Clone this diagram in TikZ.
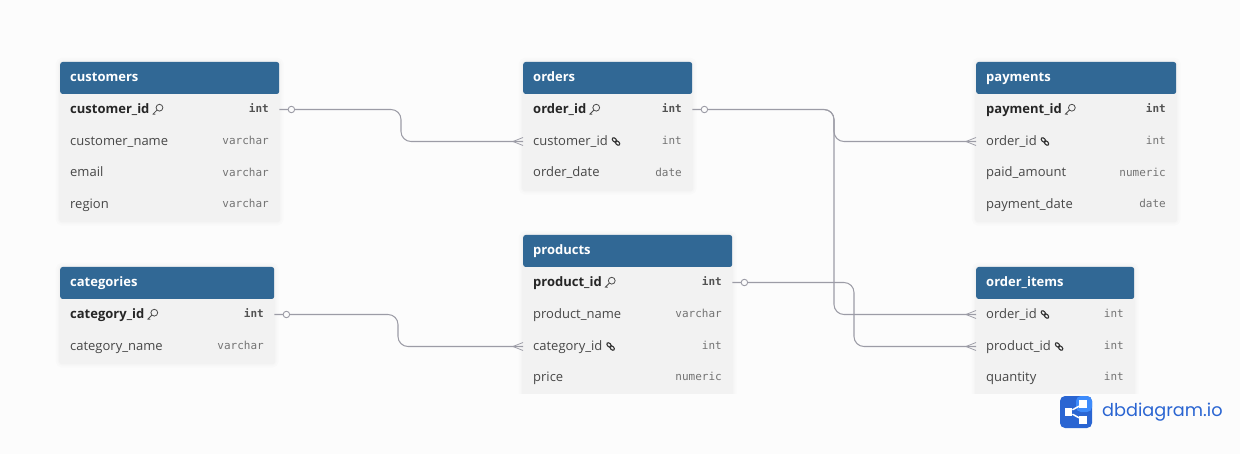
\documentclass[tikz,border=0pt]{standalone}
\usepackage{fontspec}
\setmainfont{Open Sans}
\newfontfamily\typefont{DejaVu Sans Mono}
\newfontfamily\logofont{Poppins}
\usepackage{xcolor}
\usetikzlibrary{calc}
\definecolor{pagebg}{HTML}{FCFCFC}
\definecolor{headblue}{HTML}{316895}
\definecolor{rowgray}{HTML}{F2F2F2}
\definecolor{linegray}{HTML}{9C9CA6}
\definecolor{logodark}{HTML}{2A65D2}
\definecolor{logolight}{HTML}{3D8BFB}
\newcommand{\crowfoot}[1]{\draw[relation, line width=0.8pt] ([xshift=-10pt]#1) -- ([yshift=4pt]#1) ([xshift=-10pt]#1) -- ([yshift=-4pt]#1);}

\begin{document}
\begin{tikzpicture}[
			x=1pt,
			y=-1pt,
			tablebody/.style={rectangle, anchor=north west, fill=rowgray, rounded corners=2.5pt, inner sep=0pt,
				preaction={draw=black, opacity=.010, line width=9pt},
				preaction={draw=black, opacity=.012, line width=5pt},
				preaction={draw=black, opacity=.014, line width=2.5pt}},
			tablehead/.style={rectangle, anchor=west, fill=headblue, rounded corners=2.5pt, text=white, font=\fontsize{13}{15}\selectfont\bfseries, minimum height=32pt, inner xsep=10pt, inner ysep=0pt, text height=10pt, text depth=3pt, align=left},
			rowname/.style={anchor=west, inner sep=0pt, text height=10.5pt, text depth=2.5pt, text=black!72, font=\fontsize{13}{15}\selectfont},
			rowkey/.style={rowname, text=black!85, font=\fontsize{13}{15}\selectfont\bfseries},
			rowtype/.style={anchor=east, inner sep=0pt, text height=10pt, text depth=3pt, text=black!55, font=\fontsize{11}{14}\typefont},
			keytype/.style={rowtype, text=black!68, font=\fontsize{11}{14}\typefont\bfseries},
			relation/.style={draw=linegray, line width=1.05pt},
			bendline/.style={relation, rounded corners=10pt},
			onemark/.style={circle, draw=linegray, fill=pagebg, line width=0.9pt, minimum size=6.5pt, inner sep=0pt},
			keyicon/.pic={\draw[black!70, line width=0.8pt] (1.8,-1.8) circle (3.4pt); \draw[black!70, line width=0.8pt] (-0.5,0.5) -- (-4.6,4.6) -- (-2.2,4.8);},
			linkicon/.pic={\draw[black!80, line width=1.1pt, rotate=-45] (-2.2,0) ellipse (2.6pt and 1.7pt) (2.2,0) ellipse (2.6pt and 1.7pt);}
			]
			
			\fill[pagebg] (0,0) rectangle (1240,454);
			\useasboundingbox (0,0) rectangle (1240,454);
			
			% customers
			\node[tablebody, minimum width=219pt, minimum height=159pt] (customers_body) at (60,62) {};
			\node[tablehead, minimum width=219pt, text width=199pt] (customers_head) at (60,78) {customers};
			\node[rowkey] (customer_id) at (70,109.5) {customer\_id};
			\pic at ([xshift=8pt]customer_id.east) {keyicon};
			\node[keytype] (customer_id_type) at (269,109.5) {int};
			\node[rowname] (customer_name) at (70,141.5) {customer\_name};
			\node[rowtype] (customer_name_type) at (269,141.5) {varchar};
			\node[rowname] (customer_email) at (70,173) {email};
			\node[rowtype] (customer_email_type) at (269,173) {varchar};
			\node[rowname] (customer_region) at (70,204.5) {region};
			\node[rowtype] (customer_region_type) at (269,204.5) {varchar};
			
			% orders
			\node[tablebody, minimum width=169pt, minimum height=128pt] (orders_body) at (523,62) {};
			\node[tablehead, minimum width=169pt, text width=149pt] (orders_head) at (523,78) {orders};
			\node[rowkey] (order_id) at (533,109.5) {order\_id};
			\pic at ([xshift=8pt]order_id.east) {keyicon};
			\node[keytype] (order_id_type) at (682,109.5) {int};
			\node[rowname] (order_customer) at (533,141.5) {customer\_id};
			\pic at ([xshift=8pt]order_customer.east) {linkicon};
			\node[rowtype] (order_customer_type) at (682,141.5) {int};
			\node[rowname] (order_date) at (533,173) {order\_date};
			\node[rowtype] (order_date_type) at (682,173) {date};
			
			% payments
			\node[tablebody, minimum width=200pt, minimum height=159pt] (payments_body) at (976,62) {};
			\node[tablehead, minimum width=200pt, text width=180pt] (payments_head) at (976,78) {payments};
			\node[rowkey] (payment_id) at (986,109.5) {payment\_id};
			\pic at ([xshift=8pt]payment_id.east) {keyicon};
			\node[keytype] (payment_id_type) at (1166,109.5) {int};
			\node[rowname] (payment_order) at (986,141.5) {order\_id};
			\pic at ([xshift=8pt]payment_order.east) {linkicon};
			\node[rowtype] (payment_order_type) at (1166,141.5) {int};
			\node[rowname] (paid_amount) at (986,173) {paid\_amount};
			\node[rowtype] (paid_amount_type) at (1166,173) {numeric};
			\node[rowname] (payment_date) at (986,204.5) {payment\_date};
			\node[rowtype] (payment_date_type) at (1166,204.5) {date};
			
			% categories
			\node[tablebody, minimum width=214pt, minimum height=96pt] (categories_body) at (60,267) {};
			\node[tablehead, minimum width=214pt, text width=194pt] (categories_head) at (60,283) {categories};
			\node[rowkey] (category_id) at (70,314.5) {category\_id};
			\pic at ([xshift=8pt]category_id.east) {keyicon};
			\node[keytype] (category_id_type) at (264,314.5) {int};
			\node[rowname] (category_name) at (70,346.5) {category\_name};
			\node[rowtype] (category_name_type) at (264,346.5) {varchar};
			
			% products and order_items end at the cut of the canvas
			\begin{scope}
				\clip (0,0) rectangle (1240,393);
				\node[tablebody, minimum width=209pt, minimum height=175pt] (products_body) at (523,235) {};
				\node[tablebody, minimum width=158pt, minimum height=143pt] (items_body) at (976,267) {};
			\end{scope}
			
			% products
			\node[tablehead, minimum width=209pt, text width=189pt] (products_head) at (523,251) {products};
			\node[rowkey] (product_id) at (533,282.5) {product\_id};
			\pic at ([xshift=8pt]product_id.east) {keyicon};
			\node[keytype] (product_id_type) at (722,282.5) {int};
			\node[rowname] (product_name) at (533,314.5) {product\_name};
			\node[rowtype] (product_name_type) at (722,314.5) {varchar};
			\node[rowname] (product_category) at (533,346.5) {category\_id};
			\pic at ([xshift=8pt]product_category.east) {linkicon};
			\node[rowtype] (product_category_type) at (722,346.5) {int};
			\node[rowname] (product_price) at (533,377.5) {price};
			\node[rowtype] (product_price_type) at (722,377.5) {numeric};
			
			% order_items
			\node[tablehead, minimum width=158pt, text width=138pt] (items_head) at (976,283) {order\_items};
			\node[rowname] (item_order) at (986,314.5) {order\_id};
			\pic at ([xshift=8pt]item_order.east) {linkicon};
			\node[rowtype] (item_order_type) at (1124,314.5) {int};
			\node[rowname] (item_product) at (986,346.5) {product\_id};
			\pic at ([xshift=8pt]item_product.east) {linkicon};
			\node[rowtype] (item_product_type) at (1124,346.5) {int};
			\node[rowname] (item_quantity) at (986,377.5) {quantity};
			\node[rowtype] (item_quantity_type) at (1124,377.5) {int};
			
			% bends of the connectors
			\coordinate (bendcustomer) at (401,0);
			\coordinate (bendorder) at (834,0);
			\coordinate (bendproduct) at (854,0);
			\coordinate (bendcategory) at (398,0);
			
			% connectors
			\draw[bendline] (customers_body.east |- customer_id) -- (customer_id -| bendcustomer) -- (order_customer -| bendcustomer) -- (orders_body.west |- order_customer);
			\draw[bendline] (orders_body.east |- order_id) -- (order_id -| bendorder) -- (payment_order -| bendorder) -- (payments_body.west |- payment_order);
			\draw[bendline] (order_id -| bendorder) ++(-10,0) -- (order_id -| bendorder) -- (item_order -| bendorder) -- (items_body.west |- item_order);
			\draw[bendline] (products_body.east |- product_id) -- (product_id -| bendproduct) -- (item_product -| bendproduct) -- (items_body.west |- item_product);
			\draw[bendline] (categories_body.east |- category_id) -- (category_id -| bendcategory) -- (product_category -| bendcategory) -- (products_body.west |- product_category);
			
			% one side
			\node[onemark] (customer_one) at ([xshift=12pt]customers_body.east |- customer_id) {};
			\node[onemark] (order_one) at ([xshift=12pt]orders_body.east |- order_id) {};
			\node[onemark] (product_one) at ([xshift=12pt]products_body.east |- product_id) {};
			\node[onemark] (category_one) at ([xshift=12pt]categories_body.east |- category_id) {};
			
			% many side
			\crowfoot{orders_body.west |- order_customer}
			\crowfoot{payments_body.west |- payment_order}
			\crowfoot{items_body.west |- item_order}
			\crowfoot{items_body.west |- item_product}
			\crowfoot{products_body.west |- product_category}
			
			% logo
			\fill[logodark, rounded corners=5pt] (1060,396) rectangle (1092,428);
			\fill[logolight, rounded corners=5pt] (1076,396) -- (1092,396) -- (1092,412) -- (1076,412) -- cycle;
			\node[rectangle, fill=white, minimum size=7.5pt, inner sep=0pt] (logo_left) at (1068.5,412) {};
			\node[rectangle, fill=white, minimum size=7.5pt, inner sep=0pt] (logo_top) at (1083,404) {};
			\node[rectangle, fill=white, minimum size=7.5pt, inner sep=0pt] (logo_bottom) at (1083,420) {};
			\draw[white, line width=1.5pt] (logo_top) -- (logo_left) -- (logo_bottom);
			\node[anchor=west, inner sep=0pt, text=logodark, font=\fontsize{17.7}{21}\logofont] (logo_text) at (1102,412) {dbdiagram.io};
			
		\end{tikzpicture}
\end{document}
